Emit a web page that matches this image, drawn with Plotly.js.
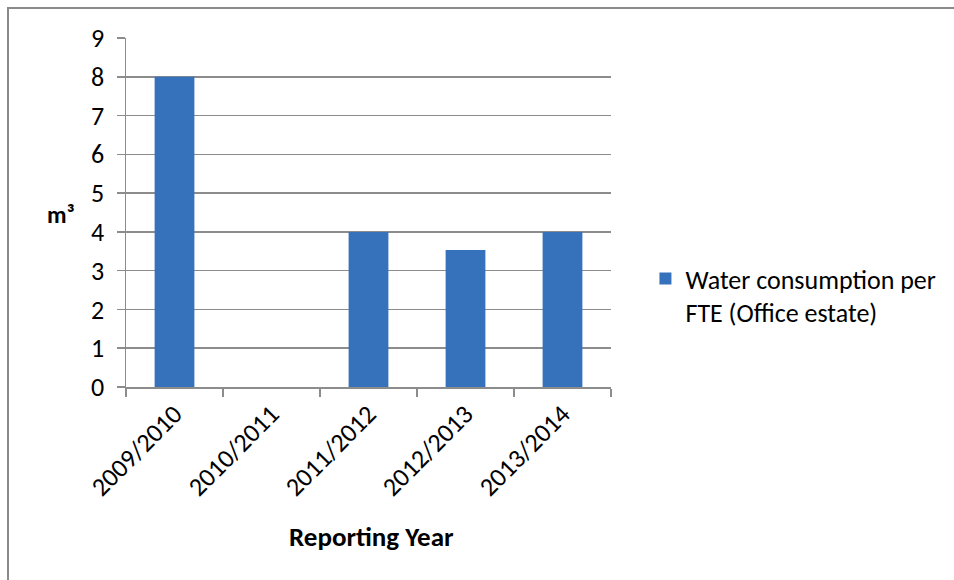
<!DOCTYPE html>
<html>
<head>
<meta charset="utf-8">
<script src="https://cdn.plot.ly/plotly-3.0.1.min.js"></script>
<style>
  html, body { margin: 0; padding: 0; background: #ffffff; }
  #wrap { position: relative; width: 954px; height: 580px; overflow: hidden; }
  #chart { width: 954px; height: 580px; }
  #frame { position: absolute; left: 7px; top: 7px; width: 1000px; height: 1000px;
           border-left: 2px solid #8a8a8a; border-top: 2px solid #8a8a8a; pointer-events: none; }
</style>
</head>
<body>
<div id="wrap">
  <div id="chart"></div>
  <div id="frame"></div>
</div>
<script>
// Reporting years on the category axis
const years = ["2009/2010", "2010/2011", "2011/2012", "2012/2013", "2013/2014"];
// Water consumption per FTE, m³ (no figure for 2010/2011)
const waterPerFTE = [8, null, 4, 3.53, 4];
const seriesName = "Water consumption per<br>FTE (Office estate)";
const yTicks = [0, 1, 2, 3, 4, 5, 6, 7, 8, 9];

const FONT = "Calibri, Carlito, Lato, sans-serif";

const trace = {
  type: "bar",
  x: years,
  y: waterPerFTE,
  name: seriesName,
  marker: { color: "#3672bb", line: { width: 0 } },
  showlegend: true,
  hoverinfo: "x+y"
};

const layout = {
  width: 954,
  height: 580,
  margin: { l: 126, r: 343, t: 38, b: 193 },
  paper_bgcolor: "#ffffff",
  plot_bgcolor: "#ffffff",
  font: { family: FONT, color: "#000000", size: 26 },
  bargap: 0.59,
  showlegend: true,
  xaxis: {
    type: "category",
    tickson: "boundaries",
    ticks: "outside",
    ticklen: 8,
    tickwidth: 1.5,
    tickcolor: "#8c8c8c",
    showline: true,
    linecolor: "#8c8c8c",
    linewidth: 1.5,
    showgrid: false,
    tickangle: -45,
    tickfont: { family: FONT, size: 26, color: "#000000" },
    range: [-0.5, 4.5],
    fixedrange: true
  },
  yaxis: {
    range: [0, 9],
    tickmode: "array",
    tickvals: yTicks,
    ticktext: yTicks.map(String),
    ticks: "outside",
    ticklen: 8,
    tickwidth: 1.5,
    tickcolor: "#8c8c8c",
    ticklabelstandoff: 7,
    showline: true,
    linecolor: "#8c8c8c",
    linewidth: 1.5,
    showgrid: true,
    gridcolor: "#8c8c8c",
    gridwidth: 1.5,
    zeroline: false,
    tickfont: { family: FONT, size: 26, color: "#000000" },
    fixedrange: true
  },
  legend: {
    x: 1.071,
    y: 0.378,
    xanchor: "left",
    yanchor: "top",
    valign: "top",
    bgcolor: "rgba(0,0,0,0)",
    borderwidth: 0,
    font: { family: FONT, size: 26, color: "#000000" },
    itemwidth: 30
  },
  annotations: [
    {
      text: "<b>m³</b>",
      xref: "paper", yref: "paper",
      x: -0.134, y: 0.493,
      xanchor: "center", yanchor: "middle",
      showarrow: false,
      font: { family: FONT, size: 24, color: "#000000" }
    },
    {
      text: "<b>Reporting Year</b>",
      xref: "paper", yref: "paper",
      x: 0.507, y: -0.427,
      xanchor: "center", yanchor: "middle",
      showarrow: false,
      font: { family: FONT, size: 27, color: "#000000" }
    }
  ]
};

Plotly.newPlot("chart", [trace], layout, { displayModeBar: false, staticPlot: true });
</script>
</body>
</html>
